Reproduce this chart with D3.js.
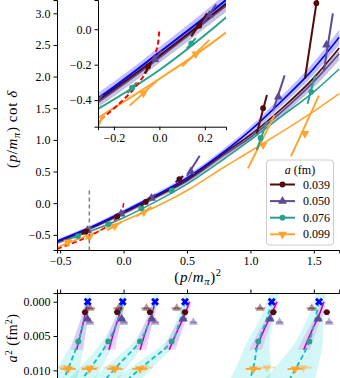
<!DOCTYPE html>
<html>
<head>
<meta charset="utf-8">
<title>p cot delta</title>
<script src="https://cdn.jsdelivr.net/npm/d3@7"></script>
<style>
  body { margin: 0; background: #fff; }
  svg { display: block; }
  text { font-family: "Liberation Serif", "DejaVu Serif", serif; fill: #000; }
</style>
</head>
<body>
<div class="plot_container"></div>
<script>
// ---- data ----
var aLabels = ["0.039", "0.050", "0.076", "0.099"];
var a2Vals = [0.00152, 0.0025, 0.00578, 0.0098];
var colors = ["#510b0b", "#5d4a97", "#27a08e", "#ffa42e"];

// continuum p cot delta curve and its band
var contX   = [-0.525, -0.27, 0, 0.25, 0.5, 0.75, 1.0, 1.25, 1.5, 1.7];
var contY   = [-0.6, -0.39, -0.13, 0.12, 0.4, 0.75, 1.15, 1.62, 2.13, 2.62];
var contErr = [0.03, 0.03, 0.03, 0.035, 0.04, 0.05, 0.06, 0.08, 0.1, 0.12];

// fits at each lattice spacing
var fitX   = [-0.525, -0.27, 0, 0.25, 0.5, 0.8, 1.0, 1.25, 1.5, 1.7];
var fit039 = [-0.61, -0.40, -0.15, 0.10, 0.37, 0.80, 1.08, 1.50, 1.98, 2.45];
var fit050 = [-0.62, -0.41, -0.16, 0.09, 0.35, 0.77, 1.04, 1.45, 1.92, 2.36];
var err050 = [0.03, 0.03, 0.03, 0.035, 0.04, 0.05, 0.06, 0.07, 0.09, 0.1];
var fit076 = [-0.63, -0.45, -0.23, 0.02, 0.30, 0.71, 1.00, 1.38, 1.76, 2.12];
var fit099 = [-0.70, -0.50, -0.28, -0.06, 0.20, 0.58, 0.82, 1.13, 1.45, 1.73];

// bound-state condition curve
var redX = [-0.525, -0.4, -0.3, -0.2, -0.1, -0.05, -0.02, -0.005, 0];
var redY = [-0.725, -0.632, -0.548, -0.447, -0.316, -0.224, -0.141, -0.071, 0];

// points: [x, y, xlo, ylo, xhi, yhi]
var pts039 = [[-0.30, -0.45, -0.33, -0.49, -0.27, -0.41], [-0.05, -0.21, -0.065, -0.25, -0.033, -0.18],
              [0.175, 0.02, 0.14, -0.04, 0.21, 0.09], [0.44, 0.38, 0.41, 0.33, 0.47, 0.43],
              [1.10, 1.50, 1.05, 1.10, 1.13, 1.71], [1.52, 3.16, 1.43, 1.97, 1.535, 3.35]];
var pts050 = [[-0.285, -0.43, -0.31, -0.47, -0.25, -0.37], [-0.02, -0.17, -0.05, -0.22, 0.01, -0.12],
              [0.22, 0.08, 0.19, 0.03, 0.25, 0.14], [0.53, 0.50, 0.50, 0.43, 0.60, 0.75],
              [1.22, 1.68, 1.18, 1.47, 1.27, 2.02], [1.60, 2.50, 1.58, 2.10, 1.65, 3.00]];
var pts076 = [[-0.36, -0.52, -0.39, -0.55, -0.33, -0.48], [-0.12, -0.33, -0.14, -0.36, -0.10, -0.30],
              [0.14, -0.08, 0.12, -0.11, 0.16, -0.05], [0.38, 0.20, 0.36, 0.17, 0.40, 0.24],
              [1.08, 1.03, 1.05, 0.84, 1.13, 1.29], [1.48, 1.76, 1.45, 1.57, 1.51, 2.02]];
var pts099 = [[-0.44, -0.62, -0.47, -0.66, -0.41, -0.58], [-0.27, -0.53, -0.30, -0.57, -0.24, -0.49],
              [-0.07, -0.36, -0.13, -0.43, -0.01, -0.29], [0.16, -0.14, 0.10, -0.21, 0.22, -0.06],
              [1.10, 0.92, 0.98, 0.55, 1.19, 1.39], [1.43, 1.10, 1.32, 0.74, 1.54, 1.70]];

// lower panel: (p/m_pi)^2 of each level vs a^2
var contP2 = [-0.283, -0.007, 0.248, 0.484, 1.168, 1.541];
var p2_039 = [-0.304, -0.05, 0.208, 0.484, 1.181, 1.602];
var p2_050 = [-0.286, -0.015, 0.222, 0.471, 1.155, 1.535];
var p2_076 = [-0.357, -0.121, 0.129, 0.379, 1.062, 1.465];
var p2_099 = [-0.436, -0.27, -0.068, 0.129, 1.023, 1.352];
var xerr   = [0.025, 0.025, 0.02, 0.06];
var lite039 = [-0.265, -0.04, 0.18, 0.419, 1.076, 1.483];
var lite050 = [-0.265, 0.003, 0.25, 0.55, 1.23, 1.62];
var lite099 = [-0.46, -0.265, -0.09, 0.16, 1.13, 1.417];
var liteA2 = [0.00096, 0.003, 0.0096];

var cyanA2 = [-0.0013, 0, 0.003, 0.006, 0.009, 0.0125];
var cyanX = [[-0.275, -0.283, -0.315, -0.36, -0.42, -0.50],
             [0.005, -0.007, -0.05, -0.128, -0.235, -0.38],
             [0.265, 0.248, 0.20, 0.12, -0.03, -0.20],
             [0.50, 0.484, 0.44, 0.37, 0.18, -0.04],
             [1.19, 1.168, 1.12, 1.06, 1.03, 0.98],
             [1.56, 1.541, 1.505, 1.46, 1.38, 1.27]];
var cyanW = [[0.02, 0.02, 0.03, 0.05, 0.08, 0.12], [0.02, 0.02, 0.03, 0.05, 0.08, 0.12], [0.02, 0.02, 0.03, 0.05, 0.08, 0.12],
             [0.02, 0.02, 0.03, 0.05, 0.08, 0.12], [0.04, 0.04, 0.06, 0.09, 0.13, 0.17], [0.04, 0.04, 0.07, 0.11, 0.16, 0.22]];
var magA2 = [0, 0.002, 0.004, 0.007];
var magX = [[-0.283, -0.305, -0.33, -0.37], [-0.007, -0.035, -0.07, -0.115], [0.248, 0.22, 0.18, 0.13],
            [0.52, 0.48, 0.43, 0.36], [1.21, 1.16, 1.11, 1.04], [1.58, 1.54, 1.49, 1.42]];
var magW = [0.02, 0.025, 0.035, 0.05];

// ---- layout ----
var width = 340, height = 378;
var svg = d3.select(".plot_container").append("svg").attr("width", width).attr("height", height);
var defs = svg.append("defs");

var x = d3.scaleLinear().domain([-0.525, 1.7]).range([57, 339.2]);
var y = d3.scaleLinear().domain([-0.74, 3.21]).range([250, 0]);
var xi = d3.scaleLinear().domain([-0.27, 0.293]).range([98, 226]);
var yi = d3.scaleLinear().domain([-0.55, 0.165]).range([126.7, 0]);
var yb = d3.scaleLinear().domain([-0.00127, 0.0125]).range([293, 387.5]);

function clip(id, x0, y0, w, h) {
    defs.append("clipPath").attr("id", id).append("rect")
        .attr("x", x0).attr("y", y0).attr("width", w).attr("height", h);
}
clip("cMain", 57, 0, 283, 250);
clip("cIns", 98, 0, 128, 126.7);
clip("cBot", 57, 293, 283, 90);

var shapes = [d3.symbolCircle, d3.symbolTriangle, d3.symbolCircle, d3.symbolTriangle];
function marker(g, px, py, i, size, fill, op) {
    g.append("path")
        .attr("d", d3.symbol().type(shapes[i]).size(size)())
        .attr("transform", "translate(" + px + "," + py + ")" + (i == 3 ? " rotate(180)" : ""))
        .attr("fill", fill).attr("opacity", op == null ? 1 : op);
}

function drawPanel(g, sx, sy, lw) {
    var band = d3.area().curve(d3.curveMonotoneX)
        .x(function(d) { return sx(d[0]); })
        .y0(function(d) { return sy(d[1] - d[2]); })
        .y1(function(d) { return sy(d[1] + d[2]); });
    var line = d3.line().curve(d3.curveMonotoneX)
        .x(function(d) { return sx(d[0]); })
        .y(function(d) { return sy(d[1]); });

    g.append("path").datum(d3.zip(contX, contY, contErr)).attr("d", band)
        .attr("fill", "#0000ff").attr("opacity", 0.25);
    g.append("path").datum(d3.zip(fitX, fit050, err050)).attr("d", band)
        .attr("fill", colors[1]).attr("opacity", 0.35);

    [fit099, fit076, fit050, fit039].forEach(function(f, k) {
        g.append("path").datum(d3.zip(fitX, f)).attr("d", line)
            .attr("fill", "none").attr("stroke", colors[3 - k]).attr("stroke-width", lw);
    });
    g.append("path").datum(d3.zip(contX, contY)).attr("d", line)
        .attr("fill", "none").attr("stroke", "#0000ff").attr("stroke-width", lw);

    g.append("path").datum(d3.zip(redX, redY)).attr("d", line)
        .attr("fill", "none").attr("stroke", "#ff0000").attr("stroke-width", lw)
        .attr("stroke-dasharray", "5,3");

    [pts099, pts076, pts050, pts039].forEach(function(set, k) {
        var i = 3 - k;
        set.forEach(function(p) {
            g.append("line")
                .attr("x1", sx(p[2])).attr("y1", sy(p[3]))
                .attr("x2", sx(p[4])).attr("y2", sy(p[5]))
                .attr("stroke", colors[i]).attr("stroke-width", 2);
            marker(g, sx(p[0]), sy(p[1]), i, i % 2 ? 34 : 26, colors[i]);
        });
    });
}

// ---- main panel ----
var gMain = svg.append("g").attr("clip-path", "url(#cMain)");
drawPanel(gMain, x, y, 1.6);
gMain.append("line")
    .attr("x1", x(-0.27)).attr("x2", x(-0.27))
    .attr("y1", y(0.2)).attr("y2", y(-0.74))
    .attr("stroke", "#808080").attr("stroke-width", 1.5).attr("stroke-dasharray", "4,3");

svg.append("g").attr("transform", "translate(0,250)")
    .call(d3.axisBottom(x).tickValues([-0.5, 0, 0.5, 1, 1.5]).tickFormat(d3.format(".1f")).tickSizeOuter(0).tickSize(3.5));
svg.append("g").attr("transform", "translate(57,0)")
    .call(d3.axisLeft(y).tickValues([-0.5, 0, 0.5, 1, 1.5, 2, 2.5, 3]).tickFormat(d3.format(".1f")).tickSizeOuter(0).tickSize(3.5));

// ---- inset ----
svg.append("rect").attr("x", 98).attr("y", 0).attr("width", 128).attr("height", 126.7).attr("fill", "#fff");
var gIns = svg.append("g").attr("clip-path", "url(#cIns)");
drawPanel(gIns, xi, yi, 2);
svg.append("g").attr("transform", "translate(0,126.7)")
    .call(d3.axisBottom(xi).tickValues([-0.2, 0, 0.2]).tickFormat(d3.format(".1f")).tickSizeOuter(0).tickSize(3.5));
svg.append("g").attr("transform", "translate(98,0)")
    .call(d3.axisLeft(yi).tickValues([-0.4, -0.2, 0]).tickFormat(d3.format(".1f")).tickSizeOuter(0).tickSize(3.5));

// ---- lower panel ----
var gBot = svg.append("g").attr("clip-path", "url(#cBot)");
var hband = d3.area().curve(d3.curveMonotoneY)
    .y(function(d) { return yb(d[0]); })
    .x0(function(d) { return x(d[1] - d[2]); })
    .x1(function(d) { return x(d[1] + d[2]); });
var vline = d3.line().curve(d3.curveMonotoneY)
    .y(function(d) { return yb(d[0]); })
    .x(function(d) { return x(d[1]); });

cyanX.forEach(function(cx, L) {
    gBot.append("path").datum(d3.zip(cyanA2, cx, cyanW[L])).attr("d", hband)
        .attr("fill", "#22d3d3").attr("opacity", 0.2);
});
magX.forEach(function(mx, L) {
    gBot.append("path").datum(d3.zip(magA2, mx, magW)).attr("d", hband)
        .attr("fill", "#e070e0").attr("opacity", 0.3);
});
magX.forEach(function(mx) {
    gBot.append("path").datum(d3.zip(magA2, mx)).attr("d", vline)
        .attr("fill", "none").attr("stroke", "#c000c0").attr("stroke-width", 1.5);
});
cyanX.forEach(function(cx) {
    gBot.append("path").datum(d3.zip(cyanA2.slice(1), cx.slice(1))).attr("d", vline)
        .attr("fill", "none").attr("stroke", "#13bdbd").attr("stroke-width", 1.8).attr("stroke-dasharray", "5,3");
});

function hpoint(px, a2, i, e, op, shapeIdx) {
    gBot.append("line")
        .attr("x1", x(px - e)).attr("x2", x(px + e))
        .attr("y1", yb(a2)).attr("y2", yb(a2))
        .attr("stroke", colors[i]).attr("stroke-width", 1.8).attr("opacity", op);
    marker(gBot, x(px), yb(a2), shapeIdx, shapeIdx % 2 ? 34 : 26, colors[i], op);
}
lite039.forEach(function(v) { hpoint(v, liteA2[0], 0, 0.04, 0.45, 1); });
lite050.forEach(function(v) { hpoint(v, liteA2[1], 1, 0.03, 0.45, 1); });
lite099.forEach(function(v) { hpoint(v, liteA2[2], 3, 0.07, 0.4, 3); });
[p2_039, p2_050, p2_076, p2_099].forEach(function(arr, i) {
    arr.forEach(function(v) { hpoint(v, a2Vals[i], i, xerr[i], 1, i); });
});
contP2.forEach(function(v) {
    gBot.append("path").attr("d", d3.symbol().type(d3.symbolCross).size(40)())
        .attr("transform", "translate(" + x(v) + "," + yb(0) + ") rotate(45)")
        .attr("fill", "#0000ff");
});

svg.append("g").attr("transform", "translate(0,293)")
    .call(d3.axisTop(x).tickValues([-0.5, 0, 0.5, 1, 1.5]).tickFormat("").tickSizeOuter(0).tickSize(3.5));
svg.append("g").attr("transform", "translate(57,0)")
    .call(d3.axisLeft(yb).tickValues([0, 0.005, 0.01]).tickFormat(d3.format(".3f")).tickSizeOuter(0).tickSize(3.5));

// axis styling
svg.selectAll(".tick text").style("font-size", "12px").attr("font-family", null);
svg.selectAll(".domain, .tick line").attr("stroke", "#000").attr("stroke-width", 1);

// ---- labels ----
// parts: [text, style, baseline offset]
function mathLabel(t, parts, fs) {
    var cur = 0;
    parts.forEach(function(p) {
        var off = p[2] || 0;
        var ts = t.append("tspan").text(p[0]).attr("dy", off - cur);
        cur = off;
        if (p[1] == "i") ts.style("font-style", "italic");
        if (p[1] == "small") ts.style("font-size", fs);
        if (p[1] == "smalli") ts.style("font-size", fs).style("font-style", "italic");
    });
}
var ylab = svg.append("text").attr("transform", "translate(17,129) rotate(-90)")
    .attr("text-anchor", "middle").style("font-size", "15px").style("letter-spacing", "0.6px");
mathLabel(ylab, [["(", ""], ["p", "i"], ["/", ""], ["m", "i"], ["π", "smalli", 3], [")", ""], [" cot ", ""], ["δ", "i"]], "10.5px");

var xlab = svg.append("text").attr("x", 198).attr("y", 282)
    .attr("text-anchor", "middle").style("font-size", "15px").style("letter-spacing", "0.6px");
mathLabel(xlab, [["(", ""], ["p", "i"], ["/", ""], ["m", "i"], ["π", "smalli", 3], [")", ""], ["2", "small", -6]], "10.5px");

var blab = svg.append("text").attr("transform", "translate(17,338) rotate(-90)")
    .attr("text-anchor", "middle").style("font-size", "14px").style("letter-spacing", "0.5px");
mathLabel(blab, [["a", "i"], ["2", "small", -5], [" (fm", ""], ["2", "small", -5], [")", ""]], "9.5px");

// ---- legend ----
var lg = svg.append("g");
lg.append("rect").attr("x", 266.5).attr("y", 160).attr("width", 67).attr("height", 85).attr("rx", 3)
    .attr("fill", "#fff").attr("fill-opacity", 0.8).attr("stroke", "#cccccc");
var lt = lg.append("text").attr("x", 300).attr("y", 174).attr("text-anchor", "middle").style("font-size", "12px");
mathLabel(lt, [["a", "i"], [" (fm)", ""]], "12px");
aLabels.forEach(function(s, i) {
    var yy = 184.5 + i * 16.6;
    lg.append("line").attr("x1", 270).attr("x2", 295).attr("y1", yy).attr("y2", yy)
        .attr("stroke", colors[i]).attr("stroke-width", 2);
    marker(lg, 282.5, yy, i, i % 2 ? 34 : 26, colors[i]);
    lg.append("text").attr("x", 303).attr("y", yy + 4).style("font-size", "12px").text(s);
});
</script>
</body>
</html>
